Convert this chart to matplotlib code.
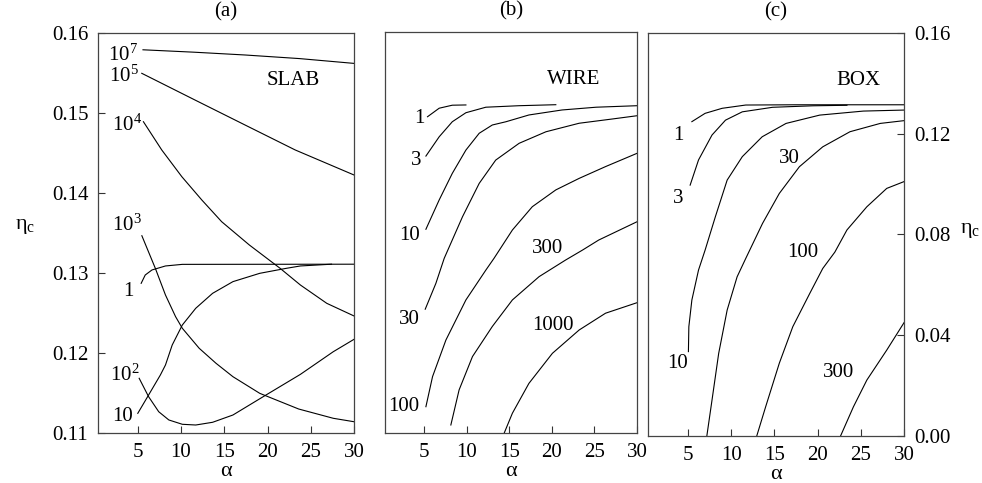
import numpy as np
import matplotlib.pyplot as plt

plt.rcParams['font.family'] = ['Liberation Serif', 'DejaVu Serif']
plt.rcParams['mathtext.fontset'] = 'custom'
plt.rcParams['mathtext.rm'] = 'Liberation Serif'
plt.rcParams['mathtext.it'] = 'Liberation Serif:italic'
plt.rcParams['font.size'] = 15

# ---- panel (a): SLAB ----
a_1e7_x = [5.6, 11.5, 17.4, 23.7, 30]
a_1e7_y = [0.1579, 0.1576, 0.15725, 0.1568, 0.1562]
a_1e5_x = [5.46, 11.6, 17.4, 23.2, 30]
a_1e5_y = [0.15496, 0.15163, 0.1485, 0.14538, 0.14225]
a_1e4_x = [5.65, 7.77, 10.09, 12.4, 14.7, 17.9, 21.45, 23.8, 26.85, 30]
a_1e4_y = [0.14891, 0.14538, 0.14204, 0.13913, 0.13641, 0.1335, 0.13059, 0.1285, 0.12621, 0.12463]
a_1e3_x = [5.47, 7.03, 8.2, 9.37, 10.15, 12.1, 14.05, 16.0, 19.1, 23.6, 27.6, 30]
a_1e3_y = [0.13466, 0.13058, 0.12725, 0.12454, 0.12309, 0.12059, 0.11871, 0.11704, 0.11496, 0.1130, 0.11184, 0.11141]
a_1_x = [5.39, 5.86, 6.64, 8.2, 10.15, 30]
a_1_y = [0.12871, 0.12975, 0.13038, 0.13088, 0.13108, 0.1311]
a_10_x = [5.0, 6.25, 7.61, 8.2, 8.98, 10.15, 11.7, 13.65, 16.0, 19.1, 22.2, 23.8, 27.4]
a_10_y = [0.11246, 0.11475, 0.11725, 0.1185, 0.121, 0.1235, 0.12559, 0.12746, 0.12892, 0.12996, 0.13059, 0.13088, 0.1311]
a_1e2_x = [5.16, 6.25, 7.42, 8.59, 10.15, 11.7, 13.65, 16.0, 19.5, 23.8, 27.6, 30]
a_1e2_y = [0.11684, 0.11454, 0.11266, 0.11163, 0.11109, 0.1110, 0.11134, 0.11225, 0.11454, 0.11733, 0.12016, 0.12171]

a_labels = ['$\\mathregular{10^7}$', '$\\mathregular{10^5}$', '$\\mathregular{10^4}$',
            '$\\mathregular{10^3}$', '1', '$\\mathregular{10^2}$', '10']
a_label_x = [3.34, 3.34, 3.73, 3.73, 3.9, 3.53, 3.27]
a_label_y = [0.15725, 0.15454, 0.1485, 0.136, 0.12766, 0.11725, 0.11204]

# ---- panel (b): WIRE ----
b_1_x = [5.39, 6.76, 8.3, 9.9]
b_1_y = [0.1262, 0.1296, 0.1308, 0.1309]
b_3_x = [5.2, 6.76, 8.3, 9.9, 12.24, 16.15, 20.46]
b_3_y = [0.1105, 0.1182, 0.1242, 0.1278, 0.1300, 0.1306, 0.1310]
b_10_x = [5.2, 6.76, 8.3, 9.9, 11.46, 13.0, 14.6, 17.3, 21.2, 25.2, 30]
b_10_y = [0.0813, 0.0930, 0.1036, 0.1129, 0.1196, 0.1229, 0.1242, 0.1269, 0.1289, 0.1300, 0.1306]
b_30_x = [5.12, 6.37, 7.35, 9.5, 11.46, 13.4, 16.15, 19.3, 23.2, 27.1, 30]
b_30_y = [0.0494, 0.0597, 0.0697, 0.0863, 0.0996, 0.1089, 0.1156, 0.1202, 0.1236, 0.1253, 0.1266]
b_100_x = [5.2, 5.98, 7.55, 9.9, 12.24, 13.2, 15.36, 17.7, 20.46, 23.2, 26.3, 30]
b_100_y = [0.0105, 0.0225, 0.0371, 0.0531, 0.0650, 0.0697, 0.0810, 0.0903, 0.0970, 0.1016, 0.1063, 0.1116]
b_300_x = [8.13, 9.1, 10.67, 13.0, 15.36, 18.5, 21.6, 23.6, 25.5, 30]
b_300_y = [0.0032, 0.0172, 0.0305, 0.0425, 0.0531, 0.0624, 0.0690, 0.0730, 0.0770, 0.0843]
b_1000_x = [14.4, 15.36, 17.3, 20.06, 23.2, 26.3, 30]
b_1000_y = [0.0, 0.0079, 0.0198, 0.0318, 0.0411, 0.0478, 0.0520]

b_labels = ['1', '3', '10', '30', '100', '300', '1000']
b_label_x = [4.41, 4.1, 3.24, 3.3, 2.65, 19.5, 20.1]
b_label_y = [0.1256, 0.1089, 0.0790, 0.0454, 0.0105, 0.0737, 0.0427]

# ---- panel (c): BOX ----
c_1_x = [5.47, 7.0, 8.97, 11.7, 17.5, 30]
c_1_y = [0.1248, 0.1281, 0.1301, 0.1314, 0.1315, 0.1315]
c_3_x = [5.27, 6.24, 7.8, 9.36, 11.3, 14.8, 19.5, 23.4]
c_3_y = [0.0996, 0.1096, 0.1195, 0.1254, 0.1287, 0.1305, 0.1311, 0.1313]
c_10_x = [5.07, 5.12, 5.47, 6.24, 7.0, 8.19, 9.55, 11.3, 13.6, 16.36, 20.25, 25.3, 30]
c_10_y = [0.0335, 0.0434, 0.0540, 0.0659, 0.0738, 0.0871, 0.1016, 0.1109, 0.1188, 0.1241, 0.1274, 0.1290, 0.1294]
c_30_x = [7.2, 7.8, 8.57, 9.55, 10.7, 11.7, 13.64, 15.58, 17.9, 20.6, 23.75, 27.25, 30]
c_30_y = [0.0, 0.0143, 0.0328, 0.0500, 0.0632, 0.0705, 0.0844, 0.0963, 0.1069, 0.1148, 0.1208, 0.1241, 0.1252]
c_100_x = [12.97, 14.0, 15.58, 17.14, 19.1, 20.6, 22.0, 23.4, 25.7, 28.0, 30]
c_100_y = [0.0, 0.0116, 0.0289, 0.0434, 0.0566, 0.0665, 0.0730, 0.0818, 0.0910, 0.0983, 0.1010]
c_300_x = [22.66, 24.15, 25.7, 28.0, 30]
c_300_y = [0.0, 0.0116, 0.0222, 0.0341, 0.0450]

c_labels = ['1', '3', '10', '30', '100', '300']
c_label_x = [3.9, 3.9, 3.83, 16.75, 18.3, 22.4]
c_label_y = [0.1195, 0.0944, 0.0289, 0.1102, 0.0729, 0.0251]

panels = [
    dict(title='(a)', name='SLAB', name_xy=(23.0, 0.1541), ylim=(0.11, 0.16),
         rect=[0.0998, 0.1035, 0.2607, 0.8282],
         curves=[(a_1e7_x, a_1e7_y), (a_1e5_x, a_1e5_y), (a_1e4_x, a_1e4_y),
                 (a_1e3_x, a_1e3_y), (a_1_x, a_1_y), (a_10_x, a_10_y), (a_1e2_x, a_1e2_y)],
         labels=(a_labels, a_label_x, a_label_y)),
    dict(title='(b)', name='WIRE', name_xy=(22.6, 0.1409), ylim=(0.0, 0.16),
         rect=[0.3921, 0.1035, 0.2566, 0.8302],
         curves=[(b_1_x, b_1_y), (b_3_x, b_3_y), (b_10_x, b_10_y), (b_30_x, b_30_y),
                 (b_100_x, b_100_y), (b_300_x, b_300_y), (b_1000_x, b_1000_y)],
         labels=(b_labels, b_label_x, b_label_y)),
    dict(title='(c)', name='BOX', name_xy=(24.7, 0.1410), ylim=(0.0, 0.16),
         rect=[0.6599, 0.0973, 0.2607, 0.8344],
         curves=[(c_1_x, c_1_y), (c_3_x, c_3_y), (c_10_x, c_10_y), (c_30_x, c_30_y),
                 (c_100_x, c_100_y), (c_300_x, c_300_y)],
         labels=(c_labels, c_label_x, c_label_y)),
]

fig = plt.figure(figsize=(9.82, 4.83), dpi=100)

axes = []
for p in panels:
    ax = fig.add_axes(p['rect'])
    for xs, ys in p['curves']:
        ax.plot(xs, ys, color='black', lw=0.8, solid_joinstyle='round')
    texts, lx, ly = p['labels']
    for t, x, y in zip(texts, lx, ly):
        ax.text(x, y, t, ha='center', va='center', fontsize=15)
    ax.text(p['name_xy'][0], p['name_xy'][1], p['name'], ha='center', va='center', fontsize=15)

    ax.set_xlim(0.4, 30)
    ax.set_ylim(*p['ylim'])
    ax.set_xticks([5, 10, 15, 20, 25, 30])
    ax.set_title(p['title'], fontsize=15, pad=12)
    ax.set_xlabel('α', fontsize=16, labelpad=0)
    ax.tick_params(direction='in', length=5, width=0.8, pad=7, labelsize=15,
                   colors='#333333', labelcolor='black')
    for s in ax.spines.values():
        s.set_color('#444444')
        s.set_linewidth(0.9)
    axes.append(ax)

ax_a, ax_b, ax_c = axes
ax_a.set_yticks([0.11, 0.12, 0.13, 0.14, 0.15, 0.16])
ax_a.set_yticklabels(['%.2f' % v for v in [0.11, 0.12, 0.13, 0.14, 0.15, 0.16]])
ax_a.set_ylabel('η$_{\\mathregular{c}}$', rotation=0, ha='center', va='center', fontsize=16)
ax_a.yaxis.set_label_coords(-0.285, 0.515)

ax_b.tick_params(axis='y', left=False, labelleft=False)

ax_c.yaxis.tick_right()
ax_c.set_yticks([0.0, 0.04, 0.08, 0.12, 0.16])
ax_c.set_yticklabels(['%.2f' % v for v in [0.0, 0.04, 0.08, 0.12, 0.16]])
ax_c.yaxis.set_label_position('right')
ax_c.set_ylabel('η$_{\\mathregular{c}}$', rotation=0, ha='center', va='center', fontsize=16)
ax_c.yaxis.set_label_coords(1.258, 0.511)

fig.savefig('out.png', dpi=100)
